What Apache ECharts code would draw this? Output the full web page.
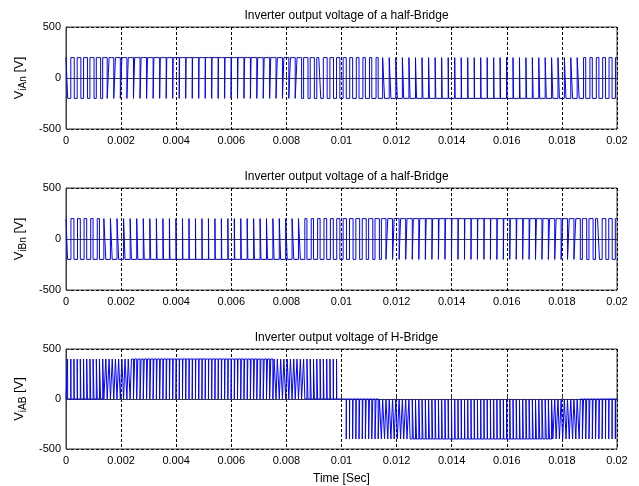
<!DOCTYPE html>
<html>
<head>
<meta charset="utf-8">
<script src="https://cdn.jsdelivr.net/npm/echarts@6/dist/echarts.min.js"></script>
<style>
html,body{margin:0;padding:0;background:#fff;}
#chart{width:639px;height:486px;}
</style>
</head>
<body>
<div id="chart"></div>
<script>
// ---- data ----
const titles = ['Inverter output voltage of a half-Bridge', 'Inverter output voltage of a half-Bridge', 'Inverter output voltage of H-Bridge'];
const ySubs = ['iAn', 'iBn', 'iAB'];
const xTickLabels = ['0', '0.002', '0.004', '0.006', '0.008', '0.01', '0.012', '0.014', '0.016', '0.018', '0.02'];
const yTickValues = [-500, 0, 500];
const tEnd = 0.02;
const tickStep = 0.002;
const levelHalf = 200;   // half-bridge output level [V]
const levelFull = 400;   // H-bridge output level [V]

// fraction of each carrier period spent at +200 V (leg A)
const dutyA = [0.52,0.55,0.58,0.62,0.65,0.68,0.71,0.74,0.76,0.79,0.82,0.84,0.86,0.88,0.90,0.91,0.92,0.93,0.94,0.95,0.95,
  0.95,0.95,0.94,0.94,0.93,0.92,0.90,0.89,0.87,0.85,0.83,0.80,0.78,0.75,0.72,0.69,0.66,0.63,0.60,0.57,0.53,
  0.50,0.47,0.43,0.40,0.37,0.34,0.31,0.28,0.25,0.22,0.20,0.17,0.15,0.13,0.11,0.10,0.08,0.07,0.06,0.06,0.05,
  0.05,0.05,0.05,0.06,0.07,0.08,0.09,0.10,0.12,0.14,0.16,0.18,0.21,0.24,0.26,0.29,0.32,0.35,0.38,0.42,0.45,0.48];
// fraction of each carrier period spent at +200 V (leg B)
const dutyB = [0.48,0.45,0.42,0.38,0.35,0.32,0.29,0.26,0.24,0.21,0.18,0.16,0.14,0.12,0.10,0.09,0.08,0.07,0.06,0.05,0.05,
  0.05,0.05,0.06,0.06,0.07,0.08,0.10,0.11,0.13,0.15,0.17,0.20,0.22,0.25,0.28,0.31,0.34,0.37,0.40,0.43,0.47,
  0.50,0.53,0.57,0.60,0.63,0.66,0.69,0.72,0.75,0.78,0.80,0.83,0.85,0.87,0.89,0.90,0.92,0.93,0.94,0.94,0.95,
  0.95,0.95,0.95,0.94,0.93,0.92,0.91,0.90,0.88,0.86,0.84,0.82,0.79,0.76,0.74,0.71,0.68,0.65,0.62,0.58,0.55,0.52];
// H-bridge pulse width (fraction of half carrier period), sign = polarity
const pulseAB = [0.03,0.10,0.17,0.23,0.29,0.36,0.42,0.47,0.53,0.58,0.63,0.68,0.72,0.76,0.79,0.82,0.85,0.87,0.88,0.89,0.90,
  0.90,0.90,0.89,0.87,0.86,0.83,0.81,0.77,0.74,0.70,0.65,0.61,0.56,0.50,0.45,0.39,0.32,0.26,0.20,0.13,0.07,
  0.00,-0.07,-0.13,-0.20,-0.26,-0.32,-0.39,-0.45,-0.50,-0.56,-0.61,-0.65,-0.70,-0.74,-0.77,-0.81,-0.83,-0.86,-0.87,-0.89,-0.90,
  -0.90,-0.90,-0.89,-0.88,-0.87,-0.85,-0.82,-0.79,-0.76,-0.72,-0.68,-0.63,-0.58,-0.53,-0.47,-0.42,-0.36,-0.29,-0.23,-0.17,-0.10,-0.03];

// ---- build step waveforms from the arrays ----
function halfBridge(duty) {
  const T = tEnd / duty.length;
  const pts = [];
  duty.forEach((d, k) => {
    const t0 = k * T;
    const a = t0 + d * T / 2, b = t0 + T - d * T / 2;
    pts.push([t0, levelHalf], [a, levelHalf], [a, -levelHalf], [b, -levelHalf], [b, levelHalf]);
  });
  pts.push([tEnd, levelHalf]);
  return pts;
}
function hBridge(widths) {
  const T = tEnd / widths.length;
  const pts = [[0, 0]];
  widths.forEach((w, k) => {
    if (w === 0) return;
    const lvl = w > 0 ? levelFull : -levelFull;
    const pw = Math.abs(w) * T / 2;
    [1, 3].forEach(q => {
      const c = k * T + q * T / 4;
      pts.push([c - pw / 2, 0], [c - pw / 2, lvl], [c + pw / 2, lvl], [c + pw / 2, 0]);
    });
  });
  pts.push([tEnd, 0]);
  return pts;
}
const seriesData = [halfBridge(dutyA), halfBridge(dutyB), hBridge(pulseAB)];

// ---- layout ----
const FONT = "'Liberation Sans', Arial, sans-serif";
const gridTops = [27, 188, 349];
const gridH = 102;
const gridLeft = 66, gridRight = 22;
const centerX = gridLeft + (639 - gridLeft - gridRight) / 2;

const option = {
  animation: false,
  backgroundColor: '#ffffff',
  title: titles.map((t, i) => ({
    text: t, left: centerX, top: gridTops[i] - 22, textAlign: 'center',
    textStyle: { fontFamily: FONT, fontSize: 12, fontWeight: 'normal', color: '#000' }
  })),
  grid: gridTops.map(top => ({
    left: gridLeft, right: gridRight, top: top, height: gridH,
    show: true, borderColor: '#3c3c3c', borderWidth: 1, backgroundColor: '#fff'
  })),
  xAxis: gridTops.map((_, i) => ({
    type: 'value', gridIndex: i, min: 0, max: tEnd, interval: tickStep,
    name: i === 2 ? 'Time [Sec]' : '', nameLocation: 'middle', nameGap: 24,
    nameTextStyle: { fontFamily: FONT, fontSize: 12, color: '#000' },
    axisLine: { show: true, lineStyle: { color: '#3c3c3c', width: 1 } },
    axisTick: { show: true, inside: true, length: 4, lineStyle: { color: '#3c3c3c' } },
    axisLabel: { fontFamily: FONT, fontSize: 11, color: '#000', margin: 6,
      formatter: v => xTickLabels[Math.round(v / tickStep)] },
    splitLine: { show: true, lineStyle: { color: '#000', type: [3, 2], width: 1 } }
  })),
  yAxis: gridTops.map((_, i) => ({
    type: 'value', gridIndex: i, min: yTickValues[0], max: yTickValues[2], interval: yTickValues[2] - yTickValues[1],
    name: '{v|V}{s|' + ySubs[i] + '}{v| [V]}', nameLocation: 'middle', nameGap: 37, nameRotate: 90,
    nameTextStyle: { fontFamily: FONT, color: '#000',
      rich: {
        v: { fontFamily: FONT, fontSize: 13, color: '#000', lineHeight: 18, verticalAlign: 'middle' },
        s: { fontFamily: FONT, fontSize: 10, color: '#000', lineHeight: 10, verticalAlign: 'bottom' }
      } },
    axisLine: { show: true, lineStyle: { color: '#3c3c3c', width: 1 } },
    axisTick: { show: true, inside: true, length: 4, lineStyle: { color: '#3c3c3c' } },
    axisLabel: { fontFamily: FONT, fontSize: 11, color: '#000', margin: 5 },
    splitLine: { show: true, lineStyle: { color: '#000', type: [3, 2], width: 1 } }
  })),
  series: seriesData.map((d, i) => ({
    type: 'line', xAxisIndex: i, yAxisIndex: i, data: d,
    showSymbol: false, symbol: 'none', clip: true,
    lineStyle: { color: '#0000ff', width: 1 }, silent: true
  }))
};

const chart = echarts.init(document.getElementById('chart'), null, { renderer: 'canvas' });
chart.setOption(option);
</script>
</body>
</html>
